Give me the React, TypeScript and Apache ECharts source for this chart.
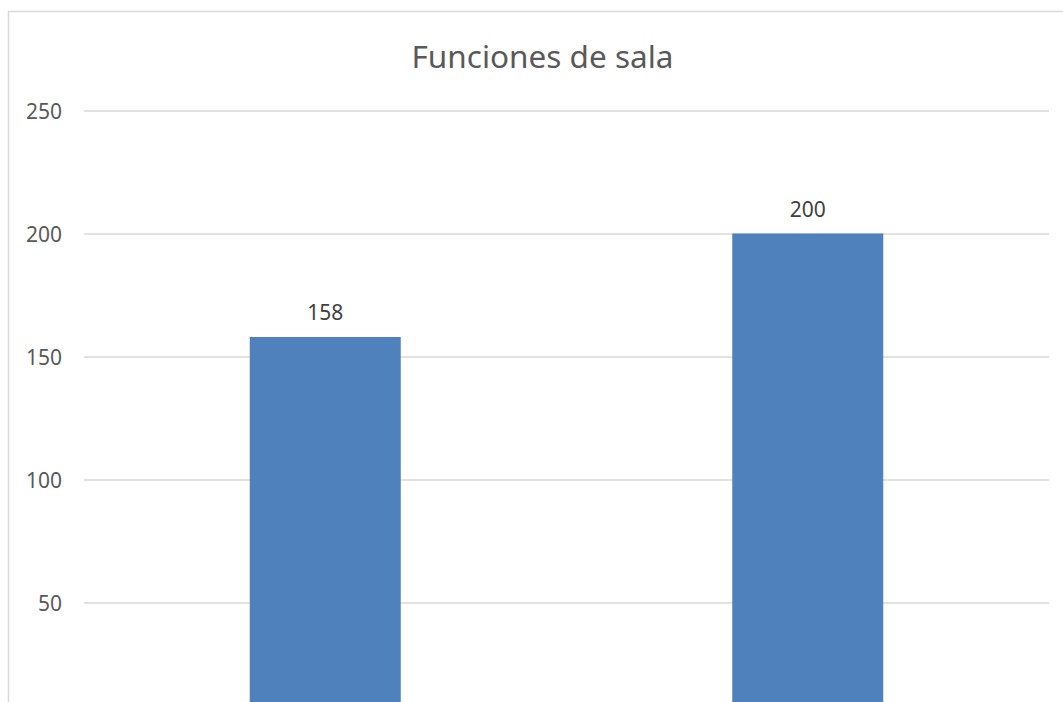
import React, { useEffect, useRef } from "react";
import * as echarts from "echarts";

const title = "Funciones de sala";
const categories = ["Categoría 1", "Categoría 2"];
const values = [158, 200];
const yMin = 0;
const yMax = 250;
const yInterval = 50;

export default function App() {
  const ref = useRef<HTMLDivElement>(null);
  useEffect(() => {
    if (!ref.current) return;
    const chart = echarts.init(ref.current, null, { renderer: "svg" });
    const font = "'Noto Sans', 'Open Sans', sans-serif";
    chart.setOption({
      animation: false,
      backgroundColor: "#ffffff",
      graphic: [
        {
          type: "rect",
          shape: { x: 8.5, y: 11.5, width: 1200, height: 900 },
          style: { fill: "none", stroke: "#d9d9d9", lineWidth: 1.5 },
          silent: true,
          z: 0,
        },
        {
          type: "text",
          x: 542.5,
          y: 55,
          style: {
            text: title,
            fill: "#595959",
            font: `31.5px ${font}`,
            fontSize: 31.5,
            fontFamily: font,
            textAlign: "center",
            textVerticalAlign: "middle",
          },
          silent: true,
        },
      ],
      grid: {
        left: 84,
        right: 14,
        top: 110.5,
        height: 615.25,
        containLabel: false,
        outerBoundsMode: "none",
      },
      xAxis: {
        type: "category",
        data: categories,
        axisLabel: { show: false },
        axisTick: { show: false },
        axisLine: { show: true, lineStyle: { color: "#d9d9d9" } },
      },
      yAxis: {
        type: "value",
        min: yMin,
        max: yMax,
        interval: yInterval,
        axisLine: { show: false },
        axisTick: { show: false },
        axisLabel: {
          color: "#595959",
          fontSize: 21,
          fontFamily: font,
          margin: 22,
          showMinLabel: false,
        },
        splitLine: { lineStyle: { color: "#d9d9d9", width: 1.5 } },
      },
      series: [
        {
          type: "bar",
          data: values,
          barWidth: 151,
          itemStyle: { color: "#4f81bd" },
          label: {
            show: true,
            position: "top",
            distance: 14,
            color: "#404040",
            fontSize: 21,
            fontFamily: font,
          },
        },
      ],
    });
    return () => chart.dispose();
  }, []);
  return (
    <div
      ref={ref}
      style={{ position: "fixed", left: 0, top: 0, width: 1063, height: 702 }}
    />
  );
}
